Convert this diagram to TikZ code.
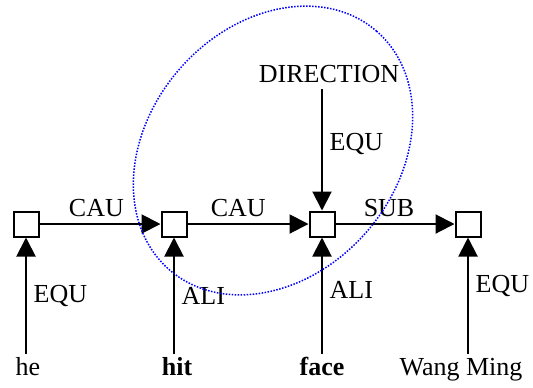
\documentclass[tikz,border=0pt]{standalone}
\usepackage{fontspec}
\setmainfont{Liberation Serif}
\usetikzlibrary{arrows.meta,positioning}
\definecolor{ringblue}{HTML}{0000FF}
\tikzset{
  cell/.style={draw, line width=1pt, minimum size=12.5pt, inner sep=0pt, fill=white},
  word/.style={anchor=base, text height=0.7em, text depth=0.2em},
  link/.style={line width=1pt, -{Triangle[length=9.5pt,width=9.5pt]}},
}

\begin{document}
\begin{tikzpicture}[x=0.5pt,y=0.5pt,font=\fontsize{13}{15}\selectfont]
\useasboundingbox (0,0) rectangle (533,-387);
% concept boxes
\node[cell] (he-box) at (26,-224) {};
\node[cell] (hit-box) at (174,-224) {};
\node[cell] (face-box) at (322,-224) {};
\node[cell] (wang-box) at (468,-224) {};
% words
\node[word] (he) at (28,-375) {he};
\node[word] (hit) at (177,-375) {\textbf{hit}};
\node[word] (face) at (322,-375) {\textbf{face}};
\node[word] (wang) at (461,-375) {Wang Ming};
\node[anchor=base] (dir) at (329,-82) {DIRECTION};
% relations
\draw[link] (he-box) -- node[above, pos=0.47] (cau-a) {CAU} (hit-box);
\draw[link] (hit-box) -- node[above, pos=0.42] (cau-b) {CAU} (face-box);
\draw[link] (face-box) -- node[above, pos=0.45] (sub) {SUB} (wang-box);
\draw[link] (dir.south -| face-box) -- node[right, pos=0.45] (equ-dir) {EQU} (face-box);
\draw[link] (he.north -| he-box) -- node[right] (equ-he) {EQU} (he-box);
\draw[link] (hit.north -| hit-box) -- node[right] (ali-hit) {ALI} (hit-box);
\draw[link] (face.north -| face-box) -- node[right, pos=0.55] (ali-face) {ALI} (face-box);
\draw[link] (wang.north -| wang-box) -- node[right, pos=0.58] (equ-wang) {EQU} (wang-box);
% focus ring
\coordinate (focus) at (273,-150.5);
\draw[ringblue, line width=0.75pt, dash pattern=on 0.75pt off 0.75pt,
  rotate around={49:(focus)}] (focus) ellipse [x radius=158, y radius=124];
\end{tikzpicture}
\end{document}
